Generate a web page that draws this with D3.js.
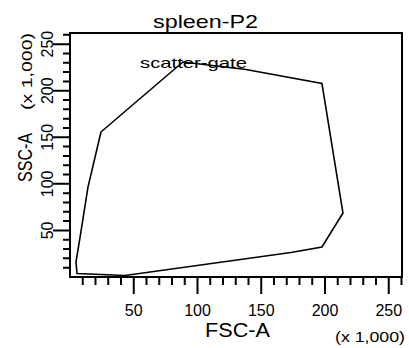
<!DOCTYPE html>
<html><head><meta charset="utf-8">
<script src="https://cdn.jsdelivr.net/npm/d3@7/dist/d3.min.js"></script>
<style>
html,body{margin:0;padding:0;background:#fff;}
text{font-family:"Liberation Sans",Arial,sans-serif;fill:#000;}
</style></head>
<body>
<svg id="c" width="409" height="348"></svg>
<script>
// Data
const title = "spleen-P2";
const gateName = "scatter-gate";
const xLabel = "FSC-A";
const yLabel = "SSC-A";
const unitLabel = "(x 1,000)";
const xDomain = [0, 260.4];
const yDomain = [0, 262];
const majorTicks = [50, 100, 150, 200, 250];
const minorTicks = [10,20,30,40,60,70,80,90,110,120,130,140,160,170,180,190,210,220,230,240,260];
// gate polygon vertices (FSC-A, SSC-A in thousands)
const gateFSC = [24.3, 83.9, 88.6, 138.0, 197.6, 214.1, 197.6, 173.3, 43.1, 5.5, 4.7, 7.8, 14.1];
const gateSSC = [155.7, 225.5, 230.9, 222.8, 207.8, 68.7, 32.2, 26.3, 1.6, 3.8, 16.1, 41.9, 96.6];

const svg = d3.select("#c");
const L = 70, R = 402, T = 33, B = 277;
const x = d3.scaleLinear().domain(xDomain).range([L, R]);
const y = d3.scaleLinear().domain(yDomain).range([B, T]);

// frame: box plus all tick marks in one path
const p = d3.path();
p.rect(L, T, R - L, B - T);
majorTicks.forEach(v => { p.moveTo(x(v), B); p.lineTo(x(v), B + 17); p.moveTo(L, y(v)); p.lineTo(L - 17, y(v)); });
minorTicks.forEach(v => { p.moveTo(x(v), B); p.lineTo(x(v), B + 8); p.moveTo(L, y(v)); p.lineTo(L - 7, y(v)); });
svg.append("path").attr("d", p.toString())
  .attr("fill","none").attr("stroke","#000").attr("stroke-width",2);

// tick labels
svg.append("g").selectAll("text").data(majorTicks).join("text")
  .attr("x", d=>x(d)).attr("y", 315.5).attr("text-anchor","middle").attr("font-size",16)
  .text(d=>d3.format("d")(d));
svg.append("g").selectAll("text").data(majorTicks).join("text")
  .attr("transform", d=>`translate(53,${y(d)}) rotate(-90)`).attr("text-anchor","middle").attr("font-size",16)
  .text(d=>d3.format("d")(d));

// gate polygon
const pts = gateFSC.map((v,i)=>[x(v), y(gateSSC[i])]);
svg.append("path").attr("d", d3.line().curve(d3.curveLinearClosed)(pts))
  .attr("fill","none").attr("stroke","#000").attr("stroke-width",1.6);

// texts
svg.append("text").attr("x",153).attr("y",27.5).attr("font-size",19)
  .attr("textLength",105).attr("lengthAdjust","spacingAndGlyphs").text(title);
svg.append("text").attr("x",140).attr("y",68).attr("font-size",15)
  .attr("textLength",107).attr("lengthAdjust","spacingAndGlyphs").text(gateName);
svg.append("text").attr("x",205).attr("y",337).attr("font-size",20)
  .attr("textLength",65).attr("lengthAdjust","spacingAndGlyphs").text(xLabel);
svg.append("text").attr("x",335).attr("y",342).attr("font-size",15)
  .attr("textLength",70).attr("lengthAdjust","spacingAndGlyphs").text(unitLabel);
svg.append("text").attr("transform","translate(32,182) rotate(-90)").attr("font-size",20)
  .attr("textLength",49).attr("lengthAdjust","spacingAndGlyphs").text(yLabel);
svg.append("text").attr("transform","translate(32,110) rotate(-90)").attr("font-size",15)
  .attr("textLength",77).attr("lengthAdjust","spacingAndGlyphs").text(unitLabel);
</script>
</body></html>
